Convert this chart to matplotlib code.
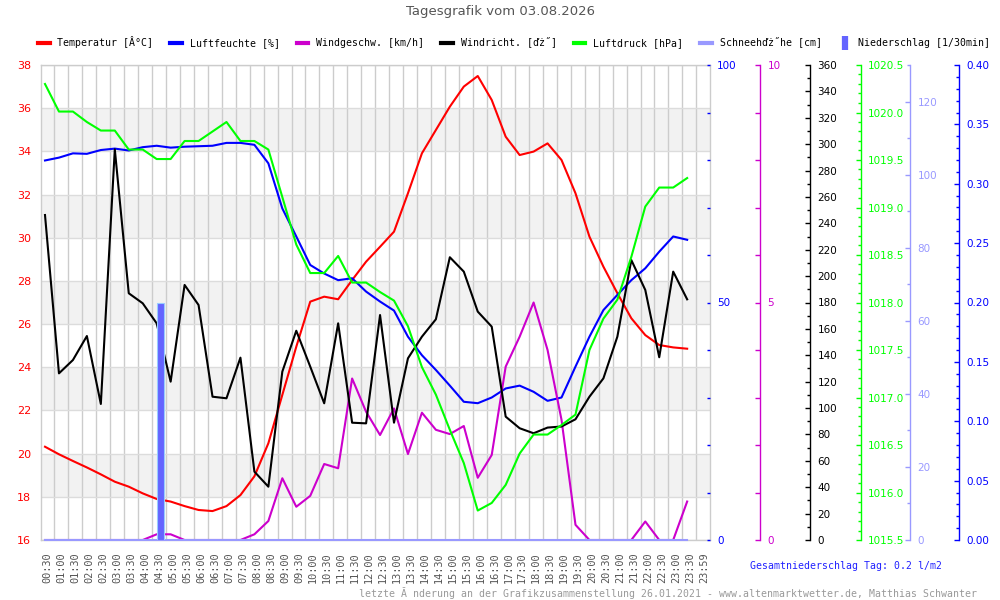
import numpy as np
import matplotlib
matplotlib.use("Agg")
import matplotlib.pyplot as plt
from matplotlib.ticker import FixedLocator, FormatStrFormatter, NullFormatter
from matplotlib.lines import Line2D

# ---------------- data ----------------
time_labels = ["00:30", "01:00", "01:30", "02:00", "02:30", "03:00", "03:30", "04:00",
               "04:30", "05:00", "05:30", "06:00", "06:30", "07:00", "07:30", "08:00",
               "08:30", "09:00", "09:30", "10:00", "10:30", "11:00", "11:30", "12:00",
               "12:30", "13:00", "13:30", "14:00", "14:30", "15:00", "15:30", "16:00",
               "16:30", "17:00", "17:30", "18:00", "18:30", "19:00", "19:30", "20:00",
               "20:30", "21:00", "21:30", "22:00", "22:30", "23:00", "23:30", "23:59"]

temperature = [20.32, 19.97, 19.66, 19.36, 19.04, 18.70, 18.47, 18.16, 17.90, 17.78,
               17.57, 17.39, 17.34, 17.57, 18.08, 18.95, 20.48, 22.72, 24.95, 27.04,
               27.27, 27.15, 28.04, 28.89, 29.58, 30.28, 32.06, 33.91, 34.99, 36.07,
               37.00, 37.49, 36.38, 34.68, 33.83, 33.99, 34.37, 33.60, 32.06, 30.05,
               28.66, 27.43, 26.27, 25.49, 25.03, 24.92, 24.86]

humidity = [79.9, 80.5, 81.4, 81.3, 82.1, 82.4, 82.0, 82.7, 83.0, 82.6,
            82.8, 82.9, 83.0, 83.6, 83.6, 83.2, 79.3, 69.8, 63.9, 57.9,
            56.1, 54.7, 55.1, 52.3, 50.2, 48.3, 42.8, 38.9, 35.8, 32.5,
            29.1, 28.8, 30.0, 31.9, 32.5, 31.2, 29.3, 30.0, 36.5, 42.8,
            48.4, 51.6, 54.7, 57.2, 60.7, 63.9, 63.2]

wind_speed = [0, 0, 0, 0, 0, 0, 0, 0, 0.12, 0.12,
              0, 0, 0, 0, 0, 0.12, 0.40, 1.30, 0.70, 0.93,
              1.60, 1.51, 3.40, 2.70, 2.21, 2.77, 1.81, 2.68, 2.32, 2.23,
              2.40, 1.31, 1.79, 3.65, 4.28, 5.00, 4.00, 2.53, 0.32, 0,
              0, 0, 0, 0.39, 0, 0, 0.81]

wind_dir = [246.3, 126.3, 136.4, 154.6, 103.1, 296.1, 187.0, 179.4, 164.2, 120.0,
            193.3, 178.1, 108.6, 107.4, 138.2, 51.8, 40.4, 127.6, 158.6, 131.4,
            103.6, 164.2, 88.9, 88.4, 170.5, 88.9, 137.7, 154.1, 167.3, 214.3,
            203.4, 173.1, 161.7, 93.5, 84.7, 80.9, 85.2, 86.0, 91.5, 108.6,
            122.5, 154.1, 212.2, 189.5, 138.5, 203.4, 182.4]

pressure = [1020.30, 1020.01, 1020.01, 1019.90, 1019.81, 1019.81, 1019.61, 1019.61, 1019.51, 1019.51,
            1019.70, 1019.70, 1019.80, 1019.90, 1019.70, 1019.70, 1019.61, 1019.11, 1018.61, 1018.31,
            1018.31, 1018.49, 1018.21, 1018.21, 1018.11, 1018.02, 1017.75, 1017.32, 1017.03, 1016.66,
            1016.31, 1015.81, 1015.89, 1016.08, 1016.41, 1016.61, 1016.61, 1016.71, 1016.82, 1017.50,
            1017.83, 1018.03, 1018.48, 1019.01, 1019.21, 1019.21, 1019.31]

snow_height = [0, 0, 0, 0, 0, 0, 0, 0, 0, 0,
               0, 0, 0, 0, 0, 0, 0, 0, 0, 0,
               0, 0, 0, 0, 0, 0, 0, 0, 0, 0,
               0, 0, 0, 0, 0, 0, 0, 0, 0, 0,
               0, 0, 0, 0, 0, 0, 0]

precipitation = [0, 0, 0, 0, 0, 0, 0, 0, 0.2, 0,
                 0, 0, 0, 0, 0, 0, 0, 0, 0, 0,
                 0, 0, 0, 0, 0, 0, 0, 0, 0, 0,
                 0, 0, 0, 0, 0, 0, 0, 0, 0, 0,
                 0, 0, 0, 0, 0, 0, 0]

legend_labels = ["Temperatur [Â°C]", "Luftfeuchte [%]", "Windgeschw. [km/h]",
                 "Windricht. [ďż˝]", "Luftdruck [hPa]", "Schneehďż˝he [cm]",
                 "Niederschlag [1/30min]"]

# ---------------- colours / layout ----------------
C_TEMP = "#ff0000"
C_HUM = "#0000ff"
C_WSPD = "#cc00cc"
C_WDIR = "#000000"
C_PRES = "#00ff00"
C_SNOW = "#9999ff"
C_PREC = "#0000ff"
C_BAR = "#6464ff"

W, H = 1000, 600
L, R, T, B = 40.7, 710.0, 65.0, 540.0
X_FIRST, X_STEP = 45.0, 13.96          # pixel of first sample, pixel per sample

fig = plt.figure(figsize=(10, 6), dpi=100)
fig.patch.set_facecolor("white")
ax = fig.add_axes([L / W, 1 - B / H, (R - L) / W, (B - T) / H])

idx = np.arange(len(temperature))
ax.set_xlim((L - X_FIRST) / X_STEP, (R - X_FIRST) / X_STEP)
ax.set_ylim(16, 38)

# background bands
for lo in range(18, 38, 4):
    ax.axhspan(lo, lo + 2, color="#f2f2f2", zorder=0, lw=0)

ax.set_yticks(np.arange(16, 39, 2))
ax.yaxis.grid(True, color="#dcdcdc", lw=1, zorder=1)
ax.set_axisbelow(True)
label_pos = np.arange(len(time_labels)) + 0.19
ax.set_xticks(label_pos)
ax.set_xticklabels(time_labels, rotation=90, family="DejaVu Sans Mono",
                   fontsize=7.4, color="#555555")
ax.xaxis.set_minor_locator(FixedLocator(idx + 0.66))
ax.xaxis.grid(True, which="minor", color="#cccccc", lw=1)
ax.tick_params(axis="x", which="both", length=0, pad=9)
ax.tick_params(axis="y", length=0, pad=7, labelcolor=C_TEMP, labelsize=8)
for s in ax.spines.values():
    s.set_color("#cccccc")
    s.set_linewidth(1)

ax.plot(idx, temperature, color=C_TEMP, lw=1.5, zorder=3)


def make_twin(px, color, ylim, major, minor, fmt, spine=True, maj_len=3.6, min_len=2.2):
    t = ax.twinx()
    t.set_ylim(*ylim)
    t.spines["right"].set_position(("axes", (px - L) / (R - L)))
    for s in ["left", "top", "bottom"]:
        t.spines[s].set_visible(False)
    t.spines["right"].set_visible(spine)
    t.spines["right"].set_color(color)
    t.spines["right"].set_linewidth(1)
    t.yaxis.set_major_locator(FixedLocator(major))
    t.yaxis.set_minor_locator(FixedLocator(minor))
    t.yaxis.set_major_formatter(fmt)
    t.yaxis.set_minor_formatter(NullFormatter())
    t.tick_params(axis="y", which="both", direction="in", colors=color,
                  labelsize=7.5, pad=5.3, width=1)
    t.tick_params(axis="y", which="major", length=maj_len)
    t.tick_params(axis="y", which="minor", length=min_len)
    return t


ax_h = make_twin(R, C_HUM, (0, 100), [0, 50, 100],
                 [v for v in range(10, 100, 10) if v != 50],
                 FormatStrFormatter("%d"), spine=False, maj_len=2.2, min_len=2.2)
ax_h.tick_params(axis="y", pad=5)
ax_h.plot(idx, humidity, color=C_HUM, lw=1.5)

ax_ws = make_twin(760, C_WSPD, (0, 10), [0, 5, 10], [1, 2, 3, 4, 6, 7, 8, 9],
                  FormatStrFormatter("%d"), maj_len=3.6, min_len=3.6)
ax_ws.plot(idx, wind_speed, color=C_WSPD, lw=1.5)

ax_wd = make_twin(810, C_WDIR, (0, 360), np.arange(0, 361, 20), np.arange(10, 360, 20),
                  FormatStrFormatter("%d"))
ax_wd.plot(idx, wind_dir, color=C_WDIR, lw=1.5)

ax_p = make_twin(860.7, C_PRES, (1015.5, 1020.5), np.arange(1015.5, 1020.51, 0.5),
                 np.arange(1015.5, 1020.51, 0.1), FormatStrFormatter("%.1f"))
ax_p.plot(idx, pressure, color=C_PRES, lw=1.5)

ax_s = make_twin(910, C_SNOW, (0, 130), np.arange(0, 121, 20), np.arange(10, 131, 20),
                 FormatStrFormatter("%d"))
ax_s.plot(idx, snow_height, color=C_SNOW, lw=1.5, clip_on=False)

ax_r = make_twin(959.3, C_PREC, (0, 0.4), np.arange(0, 0.401, 0.05),
                 np.arange(0, 0.401, 0.01), FormatStrFormatter("%.2f"))
prec = np.array(precipitation)
mask = prec > 0
ax_r.bar(idx[mask], prec[mask], width=0.52, align="edge", color=C_BAR,
         edgecolor="#99ccff", lw=0.8)

# ---------------- legend ----------------
handles = [Line2D([], [], color=c, lw=3) for c in
           [C_TEMP, C_HUM, C_WSPD, C_WDIR, C_PRES, C_SNOW]]
handles.append(Line2D([], [], color=C_BAR, marker="|", markersize=10, mew=4.5,
                      linestyle="none"))
fig.legend(handles, legend_labels, loc="center", bbox_to_anchor=(0.514, 1 - 42 / H),
           ncol=7, frameon=False, handlelength=1.2, handletextpad=0.8,
           columnspacing=1.7, borderpad=0, borderaxespad=0,
           prop={"family": "DejaVu Sans Mono", "size": 7.1})

# ---------------- texts ----------------
fig.text(0.5, 1 - 12 / H, "Tagesgrafik vom 03.08.2026", ha="center", va="center",
         color="#555555", fontsize=9.5)
fig.text(750 / W, 1 - 566 / H, "Gesamtniederschlag Tag: %.1f l/m2" % prec.sum(),
         ha="left", va="center", color="#2020ff", family="DejaVu Sans Mono", fontsize=7.1)
fig.text(977 / W, 1 - 593 / H,
         "letzte Ă nderung an der Grafikzusammenstellung 26.01.2021 - "
         "www.altenmarktwetter.de, Matthias Schwanter",
         ha="right", va="center", color="#999999", family="DejaVu Sans Mono", fontsize=7.1)

fig.savefig("out.png", dpi=100, facecolor="white")
